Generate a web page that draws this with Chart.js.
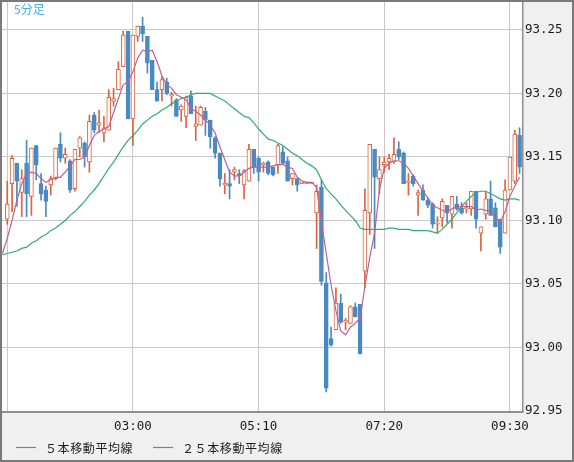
<!DOCTYPE html>
<html>
<head>
<meta charset="utf-8">
<script src="https://cdn.jsdelivr.net/npm/chart.js@4.4.1/dist/chart.umd.min.js"></script>
<style>
  html, body { margin: 0; padding: 0; background: #f0f0f0; }
  canvas { display: block; }
</style>
</head>
<body>
<canvas id="myChart" width="574" height="462"></canvas>
<script>
// 5分足 USD/JPY, 00:45 - 09:40 (108本)
const opens = [null,
  93.101, 93.129, 93.145, 93.122, 93.145, 93.119, 93.159, 93.129, 93.124, 93.128,
  93.133, 93.160, 93.149, 93.147, 93.125, 93.157, 93.161, 93.146, 93.183, 93.175,
  93.169, 93.171, 93.194, 93.203, 93.221, 93.249, 93.180, 93.245, 93.253, 93.245,
  93.226, 93.203, 93.203, 93.209, 93.198, 93.195, 93.187, 93.182, 93.198, 93.174,
  93.175, 93.186, 93.179, 93.165, 93.153, 93.128, 93.129, 93.138, 93.137, 93.128,
  93.131, 93.156, 93.149, 93.144, 93.146, 93.142, 93.144, 93.154, 93.147, 93.133,
  93.133, 93.129, 93.129, 93.129, 93.106, 93.126, 93.051, 93.007, 93.014, 93.035,
  93.020, 93.019, 93.032, 93.034, 93.060, 93.106, 93.156, 93.133, 93.144, 93.146,
  93.146, 93.156, 93.153, 93.130, 93.135, 93.120, 93.124, 93.116, 93.113, 93.097,
  93.102, 93.112, 93.105, 93.113, 93.110, 93.109, 93.109, 93.123, 93.090, 93.105,
  93.117, 93.110, 93.101, 93.090, 93.124, 93.131, 93.167];
const highs = [null,
  93.131, 93.151, 93.145, 93.140, 93.163, 93.157, 93.159, 93.137, 93.127, 93.135,
  93.157, 93.169, 93.157, 93.148, 93.156, 93.166, 93.162, 93.183, 93.185, 93.187,
  93.182, 93.203, 93.204, 93.225, 93.249, 93.249, 93.246, 93.253, 93.260, 93.245,
  93.226, 93.209, 93.213, 93.212, 93.201, 93.196, 93.191, 93.198, 93.202, 93.190,
  93.190, 93.189, 93.179, 93.166, 93.153, 93.137, 93.140, 93.142, 93.140, 93.140,
  93.160, 93.156, 93.150, 93.146, 93.147, 93.142, 93.160, 93.158, 93.150, 93.137,
  93.133, 93.129, 93.129, 93.129, 93.128, 93.132, 93.059, 93.016, 93.047, 93.042,
  93.023, 93.033, 93.035, 93.034, 93.125, 93.160, 93.156, 93.150, 93.150, 93.152,
  93.165, 93.162, 93.154, 93.137, 93.136, 93.124, 93.128, 93.118, 93.114, 93.103,
  93.117, 93.112, 93.119, 93.119, 93.114, 93.114, 93.123, 93.123, 93.095, 93.123,
  93.131, 93.114, 93.101, 93.132, 93.150, 93.171, 93.173];
const lows = [null,
  93.097, 93.107, 93.111, 93.103, 93.103, 93.104, 93.132, 93.116, 93.103, 93.120,
  93.132, 93.146, 93.145, 93.122, 93.123, 93.150, 93.142, 93.138, 93.169, 93.169,
  93.162, 93.171, 93.190, 93.203, 93.221, 93.180, 93.159, 93.241, 93.241, 93.216,
  93.203, 93.194, 93.194, 93.199, 93.190, 93.182, 93.178, 93.173, 93.184, 93.163,
  93.175, 93.167, 93.157, 93.149, 93.127, 93.121, 93.117, 93.132, 93.129, 93.117,
  93.131, 93.137, 93.131, 93.138, 93.136, 93.135, 93.137, 93.144, 93.131, 93.128,
  93.123, 93.129, 93.129, 93.129, 93.078, 93.049, 92.965, 93.001, 93.014, 93.019,
  93.014, 93.019, 93.024, 92.995, 93.047, 93.089, 93.078, 93.121, 93.138, 93.140,
  93.145, 93.148, 93.129, 93.120, 93.127, 93.104, 93.116, 93.110, 93.094, 93.090,
  93.095, 93.098, 93.094, 93.108, 93.105, 93.106, 93.104, 93.094, 93.076, 93.101,
  93.104, 93.095, 93.074, 93.090, 93.124, 93.129, 93.137];
const closes = [null,
  93.113, 93.149, 93.131, 93.133, 93.121, 93.157, 93.144, 93.121, 93.115, 93.133,
  93.157, 93.149, 93.152, 93.124, 93.156, 93.165, 93.150, 93.178, 93.171, 93.177,
  93.173, 93.197, 93.196, 93.219, 93.246, 93.180, 93.246, 93.253, 93.247, 93.224,
  93.203, 93.194, 93.211, 93.200, 93.199, 93.182, 93.190, 93.197, 93.184, 93.176,
  93.189, 93.179, 93.166, 93.153, 93.133, 93.129, 93.127, 93.140, 93.135, 93.139,
  93.156, 93.142, 93.138, 93.145, 93.137, 93.136, 93.159, 93.145, 93.131, 93.137,
  93.128, 93.129, 93.129, 93.129, 93.123, 93.052, 92.968, 93.002, 93.035, 93.020,
  93.021, 93.032, 93.024, 92.995, 93.108, 93.160, 93.134, 93.140, 93.146, 93.149,
  93.152, 93.150, 93.129, 93.131, 93.129, 93.122, 93.116, 93.112, 93.097, 93.098,
  93.115, 93.106, 93.119, 93.109, 93.106, 93.110, 93.123, 93.101, 93.095, 93.117,
  93.104, 93.095, 93.079, 93.124, 93.150, 93.168, 93.142];

// 移動平均線 (チャートから読み取り)
const ma5 = [
  93.074, 93.086, 93.100, 93.116, 93.129, 93.137, 93.138, 93.137, 93.133, 93.130,
  93.132, 93.134, 93.134, 93.138, 93.143, 93.148, 93.148, 93.150, 93.159, 93.167,
  93.170, 93.172, 93.174, 93.185, 93.196, 93.207, 93.209, 93.217, 93.228, 93.234,
  93.233, 93.234, 93.225, 93.214, 93.207, 93.204, 93.199, 93.197, 93.195, 93.188,
  93.186, 93.183, 93.179, 93.175, 93.169, 93.158, 93.148, 93.138, 93.135, 93.135,
  93.138, 93.141, 93.142, 93.142, 93.142, 93.142, 93.143, 93.144, 93.144, 93.142,
  93.141, 93.134, 93.131, 93.130, 93.130, 93.126, 93.099, 93.074, 93.049, 93.029,
  93.013, 93.010, 93.016, 93.019, 93.023, 93.048, 93.071, 93.090, 93.124, 93.141,
  93.145, 93.147, 93.147, 93.145, 93.141, 93.135, 93.129, 93.123, 93.118, 93.112,
  93.110, 93.108, 93.107, 93.109, 93.111, 93.111, 93.111, 93.111, 93.108, 93.109,
  93.108, 93.107, 93.102, 93.099, 93.107, 93.119, 93.127, 93.134];
const ma25 = [
  93.073, 93.074, 93.075, 93.076, 93.078, 93.079, 93.082, 93.084, 93.087, 93.089,
  93.092, 93.094, 93.097, 93.100, 93.104, 93.107, 93.111, 93.115, 93.120, 93.124,
  93.129, 93.135, 93.141, 93.146, 93.152, 93.158, 93.163, 93.167, 93.171, 93.176,
  93.179, 93.182, 93.184, 93.187, 93.189, 93.192, 93.194, 93.196, 93.197, 93.199,
  93.200, 93.200, 93.200, 93.200, 93.198, 93.196, 93.194, 93.191, 93.188, 93.185,
  93.182, 93.181, 93.177, 93.172, 93.168, 93.164, 93.163, 93.161, 93.159, 93.156,
  93.153, 93.151, 93.148, 93.145, 93.143, 93.140, 93.132, 93.125, 93.121, 93.117,
  93.112, 93.108, 93.104, 93.100, 93.094, 93.093, 93.093, 93.093, 93.093, 93.093,
  93.094, 93.094, 93.093, 93.093, 93.093, 93.092, 93.092, 93.092, 93.092, 93.091,
  93.090, 93.093, 93.097, 93.101, 93.106, 93.111, 93.115, 93.119, 93.122, 93.123,
  93.123, 93.121, 93.119, 93.117, 93.116, 93.117, 93.117, 93.116];

const gridTimes = ['00:50', '03:00', '05:10', '07:20', '09:30'];
const tickLabels = ['03:00', '05:10', '07:20', '09:30'];
const yTicks = [92.95, 93.00, 93.05, 93.10, 93.15, 93.20, 93.25];

// 時刻ラベル 00:45 から5分おき
const timeLabels = [];
for (let m = 45; m <= 9 * 60 + 40; m += 5) {
    timeLabels.push(String(Math.floor(m / 60)).padStart(2, '0') + ':' + String(m % 60).padStart(2, '0'));
}

const UP = '#d9643f';
const DOWN = '#4a8ac2';
const MA5_COLOR = '#c0608e';
const MA25_COLOR = '#2eae6e';

const isUp = i => closes[i] >= opens[i];
const bodies = opens.map((o, i) => o === null ? null : [o, closes[i]]);
const wicks = lows.map((l, i) => l === null ? null : [l, highs[i]]);

const framePlugin = {
    id: 'frame',
    beforeDraw(chart) {
        const { ctx, chartArea: a } = chart;
        ctx.save();
        ctx.fillStyle = '#f0f0f0';
        ctx.fillRect(0, 0, chart.width, chart.height);
        ctx.fillStyle = '#ffffff';
        ctx.fillRect(a.left, a.top, a.right - a.left, a.bottom - a.top);
        ctx.restore();
    },
    afterDraw(chart) {
        const { ctx, chartArea: a } = chart;
        ctx.save();
        // 枠線
        ctx.strokeStyle = '#909090';
        ctx.lineWidth = 1.5;
        ctx.beginPath();
        ctx.moveTo(a.right + 0.75, 0);
        ctx.lineTo(a.right + 0.75, a.bottom + 1);
        ctx.stroke();
        ctx.lineWidth = 2;
        ctx.beginPath();
        ctx.moveTo(0, a.bottom + 1);
        ctx.lineTo(a.right + 1.5, a.bottom + 1);
        ctx.stroke();
        ctx.strokeStyle = '#7a7a7a';
        ctx.lineWidth = 2;
        ctx.strokeRect(1, 1, chart.width - 2, chart.height - 2);

        // 足種
        ctx.fillStyle = '#3db5ee';
        ctx.font = '12px "Noto Sans CJK JP"';
        ctx.textBaseline = 'top';
        ctx.fillText('5分足', 14, 3);

        // 凡例
        const items = chart.data.datasets.filter(d => d.type === 'line');
        const starts = [16, 153];
        ctx.font = '12px "Noto Sans CJK JP"';
        ctx.letterSpacing = '0.6px';
        ctx.textBaseline = 'middle';
        items.forEach((d, k) => {
            const x = starts[k];
            const y = 447.5;
            ctx.strokeStyle = d.borderColor;
            ctx.lineWidth = 1.2;
            ctx.beginPath();
            ctx.moveTo(x, y);
            ctx.lineTo(x + 20, y);
            ctx.stroke();
            ctx.fillStyle = '#1a1a1a';
            ctx.fillText(d.label, x + 29, y + 0.5);
        });
        ctx.restore();
    }
};

const ctx = document.getElementById('myChart').getContext('2d');
const myChart = new Chart(ctx, {
    type: 'bar',
    data: {
        labels: timeLabels,
        datasets: [
            {
                type: 'line',
                label: '５本移動平均線',
                data: ma5,
                borderColor: MA5_COLOR,
                borderWidth: 1.2,
                pointRadius: 0,
                tension: 0,
                order: 0
            },
            {
                type: 'line',
                label: '２５本移動平均線',
                data: ma25,
                borderColor: MA25_COLOR,
                borderWidth: 1.2,
                pointRadius: 0,
                tension: 0,
                order: 0
            },
            {
                label: 'body',
                data: bodies,
                grouped: false,
                barThickness: 4,
                minBarLength: 1.5,
                borderWidth: 1,
                borderSkipped: false,
                backgroundColor: c => isUp(c.dataIndex) ? '#ffffff' : DOWN,
                borderColor: c => isUp(c.dataIndex) ? UP : DOWN,
                order: 1
            },
            {
                label: 'wick',
                data: wicks,
                grouped: false,
                barThickness: 1,
                borderWidth: 0,
                backgroundColor: c => isUp(c.dataIndex) ? UP : DOWN,
                order: 2
            }
        ]
    },
    options: {
        responsive: false,
        animation: false,
        devicePixelRatio: 1,
        layout: { padding: { top: 2, left: 0, right: 0, bottom: 0 } },
        plugins: {
            legend: { display: false },
            tooltip: { enabled: false }
        },
        scales: {
            x: {
                offset: true,
                grid: {
                    offset: false,
                    drawTicks: false,
                    lineWidth: 1,
                    color: c => gridTimes.includes(timeLabels[c.index]) ? '#c8c8c8' : 'rgba(0,0,0,0)'
                },
                border: { display: false },
                ticks: {
                    autoSkip: false,
                    maxRotation: 0,
                    padding: 8,
                    color: '#1a1a1a',
                    font: { family: '"DejaVu Sans Mono"', size: 12.5 },
                    callback: function (value) {
                        const t = this.getLabelForValue(value);
                        return tickLabels.includes(t) ? t : '';
                    }
                },
                afterFit: s => { s.height = 51; s.paddingLeft = 0; s.paddingRight = 0; }
            },
            y: {
                position: 'right',
                min: 92.95,
                max: 93.272,
                grid: { drawTicks: false, color: '#c8c8c8', lineWidth: 1 },
                border: { display: false },
                afterBuildTicks: s => { s.ticks = yTicks.map(v => ({ value: v })); },
                ticks: {
                    padding: 3,
                    color: '#1a1a1a',
                    font: { family: '"DejaVu Sans Mono"', size: 12.5 },
                    callback: v => v.toFixed(2)
                },
                afterFit: s => { s.width = 52; s.paddingTop = 0; s.paddingBottom = 0; }
            }
        }
    },
    plugins: [framePlugin]
});
</script>
</body>
</html>
